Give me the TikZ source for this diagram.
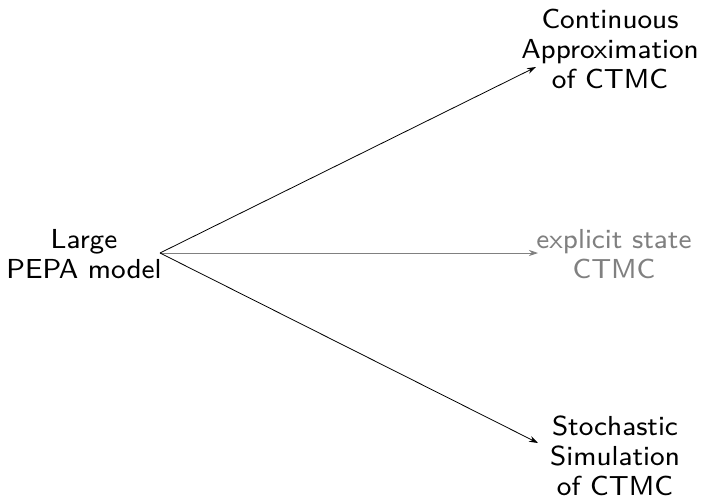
\documentclass[tikz,border=0pt]{standalone}
\usepackage{fontspec}
\newfontfamily\lmsseight{lmsans8-regular.otf}
\usetikzlibrary{arrows.meta}
\begin{document}
\begin{tikzpicture}[x=1pt,y=-1pt,
  lbl/.style={align=center,inner sep=0pt,font=\lmsseight\fontsize{27.5}{30}\selectfont},
  arr/.style={-{Stealth[length=9pt,width=6pt]},line width=0.8pt},
  faded/.style={gray}]
\useasboundingbox (0,0) rectangle (705,501);
\node[lbl] (src) at (84,254) {Large\\PEPA model};
\node[lbl] (top) at (610,49) {Continuous\\Approximation\\of CTMC};
\node[lbl,faded] (mid) at (614,254) {explicit state\\CTMC};
\node[lbl] (bot) at (615,456) {Stochastic\\Simulation\\of CTMC};
\coordinate (s) at (160,253);
\coordinate (t1) at (536,67);
\coordinate (t2) at (538,253);
\coordinate (t3) at (538,443);
\draw[arr] (s) -- (t1);
\draw[arr,faded] (s) -- (t2);
\draw[arr] (s) -- (t3);
\end{tikzpicture}
\end{document}
